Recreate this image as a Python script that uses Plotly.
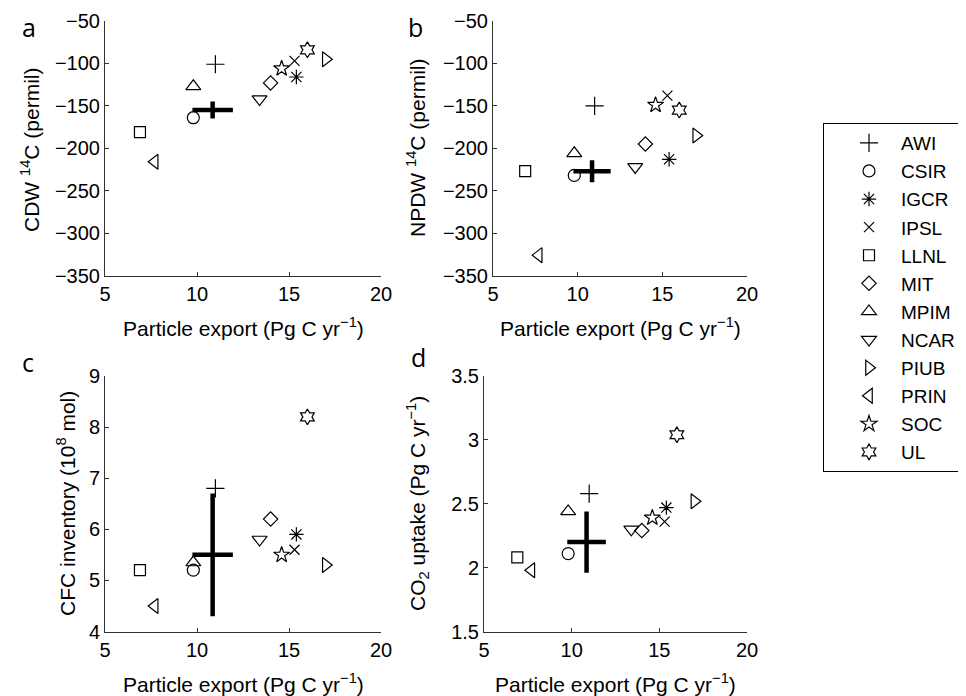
import plotly.graph_objects as go

# ---- data ----
models = ["AWI", "CSIR", "IGCR", "IPSL", "LLNL", "MIT", "MPIM", "NCAR", "PIUB", "PRIN", "SOC", "UL"]
export = [11.0, 9.8, 15.4, 15.3, 6.9, 14.0, 9.8, 13.4, 17.0, 7.7, 14.6, 16.0]
cdw14c = [-101, -164, -116, -97, -181, -123, -127, -142, -95, -216, -106, -84]
npdw14c = [-150, -232, -213, -138, -227, -195, -206, -222, -185, -326, -149, -155]
cfc_inv = [6.8, 5.2, 5.9, 5.6, 5.2, 6.2, 5.35, 5.8, 5.3, 4.5, 5.5, 8.2]
co2_uptake = [2.58, 2.11, 2.47, 2.36, 2.08, 2.29, 2.44, 2.30, 2.52, 1.98, 2.39, 3.04]

obs_export = [10.85]
obs_export_err = [1.1]
obs_cdw = [-155]
obs_cdw_err = [10]
obs_npdw = [-227]
obs_npdw_err = [13]
obs_cfc = [5.5]
obs_cfc_err = [1.2]
obs_co2 = [2.2]
obs_co2_err = [0.24]

x_ticks = [5, 10, 15, 20]
y_ticks_ab = [-350, -300, -250, -200, -150, -100, -50]
y_ticks_c = [4, 5, 6, 7, 8, 9]
y_ticks_d = [1.5, 2, 2.5, 3, 3.5]

# ---- style ----
symbols = ["cross-thin-open", "circle-open", "asterisk-open", "x-thin-open", "square-open",
           "diamond-open", "triangle-up-open", "triangle-down-open", "triangle-right-open",
           "triangle-left-open", "star-open", "hexagram-open"]
sizes = [13, 12, 12, 10, 11, 11, 13, 13, 13, 13, 12, 12]

# page has an 8px body margin: figure is placed at (8, 8)
OFF = 8
W, H = 958, 688
def px(x):
    return (x - OFF) / W
def py(y):
    return 1 - (y - OFF) / H

panels = [
    dict(xa="x", ya="y", xd=[px(105), px(381)], yd=[py(275.5), py(21)], yv=cdw14c,
         ov=obs_cdw, oe=obs_cdw_err, yr=[-350, -50], yt=y_ticks_ab),
    dict(xa="x2", ya="y2", xd=[px(493), px(747)], yd=[py(275.5), py(21)], yv=npdw14c,
         ov=obs_npdw, oe=obs_npdw_err, yr=[-350, -50], yt=y_ticks_ab),
    dict(xa="x3", ya="y3", xd=[px(105), px(381)], yd=[py(631.5), py(376)], yv=cfc_inv,
         ov=obs_cfc, oe=obs_cfc_err, yr=[4, 9], yt=y_ticks_c),
    dict(xa="x4", ya="y4", xd=[px(484), px(747)], yd=[py(631.5), py(376)], yv=co2_uptake,
         ov=obs_co2, oe=obs_co2_err, yr=[1.5, 3.5], yt=y_ticks_d),
]

fig = go.Figure()
for pi, p in enumerate(panels):
    for i, m in enumerate(models):
        fig.add_trace(go.Scatter(
            x=[export[i]], y=[p["yv"][i]], mode="markers", name=m,
            legendgroup=m, showlegend=(pi == 0),
            marker=dict(symbol=symbols[i], size=sizes[i], color="black",
                        line=dict(width=1.2, color="black")),
            xaxis=p["xa"], yaxis=p["ya"]))
    fig.add_trace(go.Scatter(
        x=obs_export, y=p["ov"], mode="markers", showlegend=False,
        marker=dict(size=1, opacity=0),
        error_x=dict(type="data", array=obs_export_err, thickness=4.5, width=0, color="black"),
        error_y=dict(type="data", array=p["oe"], thickness=4.5, width=0, color="black"),
        xaxis=p["xa"], yaxis=p["ya"]))

tickfont = dict(family="Liberation Sans", size=20, color="black")
ax_common = dict(showline=True, linecolor="#333", linewidth=1, mirror=False,
                 ticks="inside", ticklen=4, tickcolor="#333", showgrid=False,
                 zeroline=False, tickfont=tickfont, automargin=False)

layout = dict(template="none", width=W, height=H, margin=dict(l=0, r=0, t=0, b=0, autoexpand=False),
              paper_bgcolor="white", plot_bgcolor="white", showlegend=True)
for k, p in enumerate(panels):
    sx = "" if k == 0 else str(k + 1)
    layout["xaxis" + sx] = dict(domain=p["xd"], range=[5, 20], tickvals=x_ticks,
                                anchor=p["ya"], **ax_common)
    layout["yaxis" + sx] = dict(domain=p["yd"], range=p["yr"], tickvals=p["yt"],
                                anchor=p["xa"], **ax_common)
fig.update_layout(**layout)

fig.update_layout(legend=dict(
    x=px(823), y=py(123), xanchor="left", yanchor="top",
    bordercolor="black", borderwidth=1, bgcolor="white",
    font=dict(family="Liberation Sans", size=19, color="black"),
    tracegroupgap=0.4, itemwidth=54, indentation=13, itemsizing="trace"))

titlefont = dict(family="Liberation Sans", size=21, color="black")
annos = []
xtitle = "Particle export (Pg C yr<sup>−1</sup>)"
for cx, cy in [(243, 327), (620, 327), (243, 683), (615.5, 683)]:
    annos.append(dict(text=xtitle, x=px(cx), y=py(cy), xref="paper", yref="paper",
                      xanchor="center", yanchor="middle", showarrow=False, font=titlefont))
ytitles = [("CDW <sup>14</sup>C (permil)", 30, 150),
           ("NPDW <sup>14</sup>C (permil)", 416, 148),
           ("CFC inventory (10<sup>8</sup> mol)", 66, 504),
           ("CO<sub>2</sub> uptake (Pg C yr<sup>−1</sup>)", 418, 504)]
for t, cx, cy in ytitles:
    annos.append(dict(text=t, x=px(cx), y=py(cy), xref="paper", yref="paper", textangle=-90,
                      xanchor="center", yanchor="middle", showarrow=False, font=titlefont))
letterfont = dict(family="Open Sans", size=25, color="black")
for t, cx, cy, anc in [("a", 29, 8.5, "top"), ("b", 415, 8.5, "top"),
                       ("c", 28, 362, "middle"), ("d", 418, 357, "middle")]:
    annos.append(dict(text=t, x=px(cx), y=py(cy), xref="paper", yref="paper",
                      xanchor="center", yanchor=anc, showarrow=False, font=letterfont))
fig.update_layout(annotations=annos)

fig.write_html("out.html")
